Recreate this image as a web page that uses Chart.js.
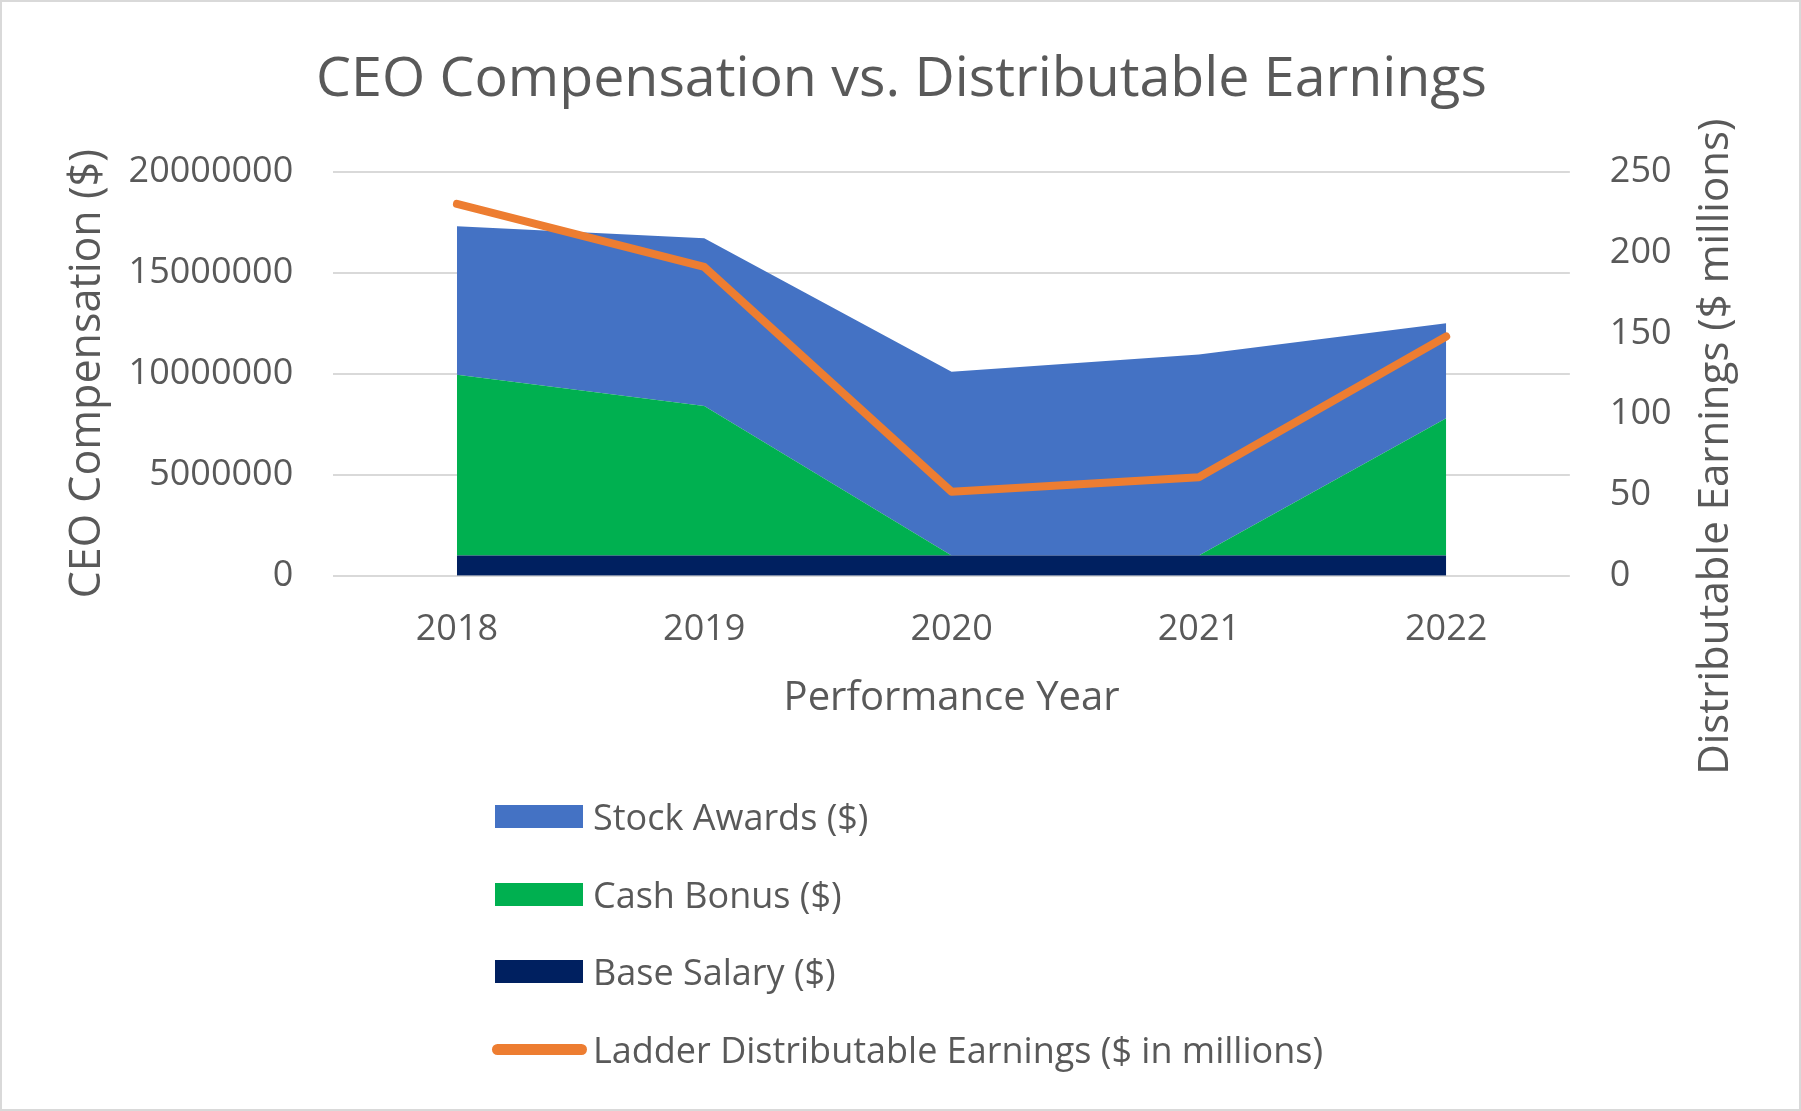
<!DOCTYPE html>
<html>
<head>
<meta charset="utf-8">
<title>CEO Compensation vs. Distributable Earnings</title>
<script src="https://cdn.jsdelivr.net/npm/chart.js@4.4.1/dist/chart.umd.min.js"></script>
<style>
  html, body { margin: 0; padding: 0; background: #ffffff; }
  #wrap { position: relative; width: 1801px; height: 1111px; overflow: hidden; }
  #chartCanvas { position: absolute; left: 0; top: 0; }
  #frame { position: absolute; left: 0; top: 0; width: 1801px; height: 1111px; box-sizing: border-box; border: 2px solid #d9d9d9; pointer-events: none; }
  #legend { position: absolute; left: 492px; top: 778px; font-family: 'Open Sans', sans-serif; font-size: 36px; color: #595959; }
  .legend-row { display: flex; align-items: center; height: 77.5px; }
  .legend-swatch { width: 88px; height: 23px; margin: 0 10px 0 3px; }
  .legend-line { width: 95px; height: 11px; border-radius: 6px; margin-right: 6px; }
</style>
</head>
<body>
<div id="wrap">
  <canvas id="chartCanvas" width="1801" height="1111"></canvas>
  <div id="legend"></div>
  <div id="frame"></div>
</div>
<script>
// Data
const years = ['2018', '2019', '2020', '2021', '2022'];
const baseSalary = [1000000, 1000000, 1000000, 1000000, 1000000];
const cashBonus = [8950000, 7400000, 0, 0, 6800000];
const stockAwards = [7350000, 8300000, 9100000, 9950000, 4700000];
const distributableEarnings = [230, 191, 52, 61, 148];

// Axis ticks
const leftTicks = [0, 5000000, 10000000, 15000000, 20000000];
const rightTicks = [0, 50, 100, 150, 200, 250];

const textColor = '#595959';
const colors = {
  stock: '#4472C4',
  cash: '#00B050',
  base: '#002060',
  earnings: '#ED7D31'
};

const rightTitle = 'Distributable Earnings ($ millions)';
const rightTitleSize = 42;

Chart.defaults.font.family = "'Open Sans', sans-serif";
Chart.defaults.color = textColor;

function areaDataset(label, values, color) {
  return {
    type: 'line',
    label: label,
    data: values,
    yAxisID: 'y',
    backgroundColor: color,
    borderColor: color,
    borderWidth: 0,
    pointRadius: 0,
    fill: 'stack',
    tension: 0,
    order: 1
  };
}

// Chart.js turns a right-hand axis title top-to-bottom; the reference reads bottom-to-top,
// so the y1 title keeps its space (transparent) and is drawn here instead
const rightTitlePlugin = {
  id: 'rightTitle',
  afterDraw(chart) {
    const scale = chart.scales.y1;
    const area = chart.chartArea;
    const c = chart.ctx;
    c.save();
    c.translate(scale.right - rightTitleSize * 0.6, (area.top + area.bottom) / 2 + 73);
    c.rotate(-Math.PI / 2);
    c.font = rightTitleSize + "px 'Open Sans', sans-serif";
    c.fillStyle = textColor;
    c.textAlign = 'center';
    c.textBaseline = 'middle';
    c.fillText(rightTitle, 0, 0);
    c.restore();
  }
};

const ctx = document.getElementById('chartCanvas').getContext('2d');
const chart = new Chart(ctx, {
  type: 'line',
  data: {
    labels: years,
    datasets: [
      {
        label: 'Ladder Distributable Earnings ($ in millions)',
        data: distributableEarnings,
        yAxisID: 'y1',
        borderColor: colors.earnings,
        backgroundColor: colors.earnings,
        borderWidth: 8,
        borderCapStyle: 'round',
        borderJoinStyle: 'round',
        pointRadius: 0,
        fill: false,
        tension: 0,
        order: 0
      },
      areaDataset('Base Salary ($)', baseSalary, colors.base),
      areaDataset('Cash Bonus ($)', cashBonus, colors.cash),
      areaDataset('Stock Awards ($)', stockAwards, colors.stock)
    ]
  },
  options: {
    responsive: false,
    animation: false,
    layout: {
      padding: { left: 62, right: 60, top: 0, bottom: 388 }
    },
    plugins: {
      legend: { display: false },
      tooltip: { enabled: false },
      title: {
        display: true,
        text: 'CEO Compensation vs. Distributable Earnings',
        color: textColor,
        font: { size: 55.5, weight: 'normal' },
        padding: { top: 47, bottom: 58 }
      }
    },
    scales: {
      x: {
        offset: true,
        grid: { display: false },
        border: { display: false },
        ticks: { color: textColor, font: { size: 36 }, padding: 24 },
        title: {
          display: true,
          text: 'Performance Year',
          color: textColor,
          font: { size: 40 },
          padding: { top: 0, bottom: 0 }
        }
      },
      y: {
        stacked: true,
        min: 0,
        max: 20000000,
        afterBuildTicks: axis => { axis.ticks = leftTicks.map(v => ({ value: v })); },
        grid: { color: '#d9d9d9', lineWidth: 2, drawTicks: false },
        border: { display: false },
        ticks: { color: textColor, font: { size: 36 }, padding: 40, callback: v => String(v) },
        title: {
          display: true,
          text: 'CEO Compensation ($)',
          color: textColor,
          font: { size: 43 },
          padding: { top: 0, bottom: -25 }
        }
      },
      y1: {
        position: 'right',
        min: 0,
        max: 250,
        afterBuildTicks: axis => { axis.ticks = rightTicks.map(v => ({ value: v })); },
        grid: { display: false, drawTicks: false },
        border: { display: false },
        ticks: { color: textColor, font: { size: 36 }, padding: 40, callback: v => String(v) },
        title: {
          display: true,
          text: rightTitle,
          color: 'rgba(0,0,0,0)',
          font: { size: rightTitleSize },
          padding: { top: 0, bottom: -21 }
        }
      }
    }
  },
  plugins: [rightTitlePlugin]
});

// Build the stacked legend below the chart from the datasets
function buildLegend(chart) {
  const legend = document.getElementById('legend');
  legend.innerHTML = '';
  const legendOrder = ['Stock Awards ($)', 'Cash Bonus ($)', 'Base Salary ($)', 'Ladder Distributable Earnings ($ in millions)'];
  legendOrder.forEach(name => {
    const ds = chart.data.datasets.find(d => d.label === name);
    const row = document.createElement('div');
    row.className = 'legend-row';
    const swatch = document.createElement('div');
    swatch.className = ds.fill ? 'legend-swatch' : 'legend-line';
    swatch.style.background = ds.backgroundColor;
    row.appendChild(swatch);
    const label = document.createElement('span');
    label.textContent = ds.label;
    row.appendChild(label);
    legend.appendChild(row);
  });
}

buildLegend(chart);
</script>
</body>
</html>
